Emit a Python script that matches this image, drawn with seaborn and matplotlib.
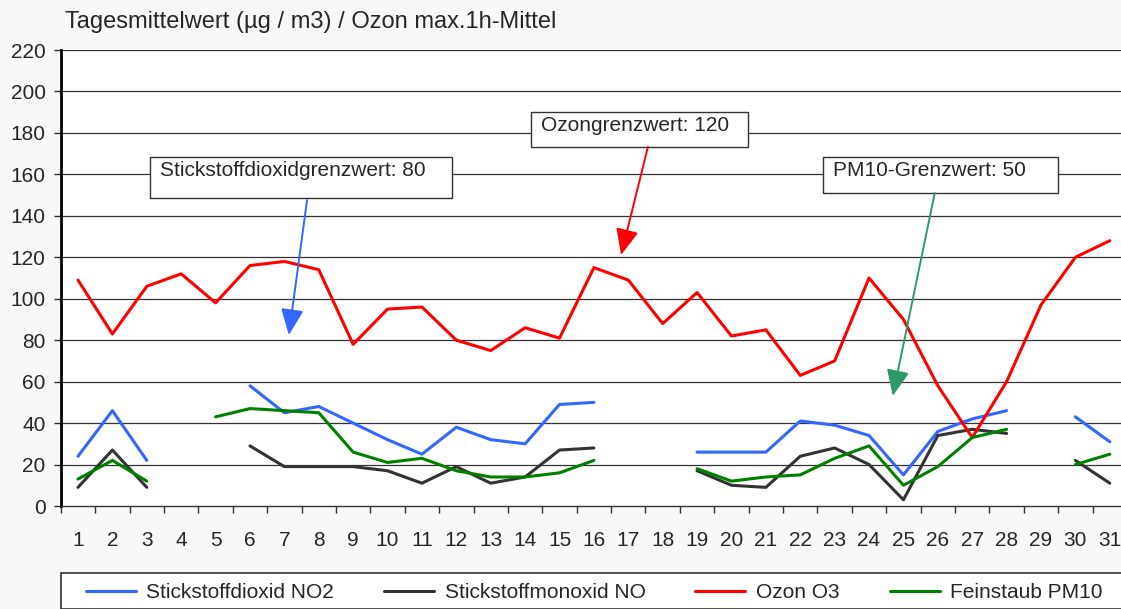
import numpy as np
import pandas as pd
import matplotlib
matplotlib.use('Agg')
import matplotlib.pyplot as plt
from matplotlib.patches import Rectangle
from matplotlib.lines import Line2D
import seaborn as sns

nan = np.nan
days = list(range(1, 32))

no2 = [24, 46, 22, nan, nan, 58, 45, 48, 40, 32, 25, 38, 32, 30, 49, 50,
       nan, nan, 26, 26, 26, 41, 39, 34, 15, 36, 42, 46, nan, 43, 31]
no = [9, 27, 9, nan, nan, 29, 19, 19, 19, 17, 11, 19, 11, 14, 27, 28,
      nan, nan, 17, 10, 9, 24, 28, 20, 3, 34, 37, 35, nan, 22, 11]
o3 = [109, 83, 106, 112, 98, 116, 118, 114, 78, 95, 96, 80, 75, 86, 81, 115,
      109, 88, 103, 82, 85, 63, 70, 110, 90, 58, 33, 60, 97, 120, 128]
pm10 = [13, 22, 12, nan, 43, 47, 46, 45, 26, 21, 23, 17, 14, 14, 16, 22,
        nan, nan, 18, 12, 14, 15, 23, 29, 10, 19, 33, 37, nan, 20, 25]

series_names = ['Stickstoffdioxid NO2', 'Stickstoffmonoxid NO', 'Ozon O3', 'Feinstaub PM10']
series_colors = ['#3366ff', '#333333', '#ff0000', '#008000']
y_ticks = list(range(0, 221, 20))

# annotation boxes: text, box (x0, x1, y0, y1), arrow start, arrow end, colour
notes = [
    ('Stickstoffdioxidgrenzwert: 80', (3.1, 11.87, 148.6, 168.4), (7.66, 147.6), (7.13, 82.5), '#3366ff'),
    ('Ozongrenzwert: 120', (14.17, 20.48, 173.2, 190.1), (17.57, 173.2), (16.79, 121.1), '#ff0000'),
    ('PM10-Grenzwert: 50', (22.66, 29.49, 151.0, 168.4), (25.91, 151.0), (24.69, 53.1), '#2e9968'),
]

frames = []
for name, vals in zip(series_names, [no2, no, o3, pm10]):
    d = pd.DataFrame({'Tag': days, 'Wert': vals, 'Messung': name})
    d['Segment'] = d['Wert'].isna().cumsum()
    frames.append(d.dropna())
df = pd.concat(frames, ignore_index=True)
df['Einheit'] = df['Messung'] + '_' + df['Segment'].astype(str)

sns.set_theme(style='white')
plt.rcParams['font.family'] = ['Liberation Sans', 'DejaVu Sans']

bg = '#f8f8f8'
fig = plt.figure(figsize=(11.21, 6.09), dpi=100, facecolor=bg)
ax = fig.add_axes([60.8 / 1121, 1 - 506 / 609, (1127 - 60.8) / 1121, (506 - 50) / 609])
ax.set_facecolor('white')

for yv in y_ticks[1:]:
    ax.axhline(yv, color='#333333', lw=0.9, zorder=1)

sns.lineplot(data=df, x='Tag', y='Wert', hue='Messung', units='Einheit', estimator=None,
             hue_order=series_names, palette=dict(zip(series_names, series_colors)),
             lw=2.2, legend=False, ax=ax, zorder=4)

for text, (x0, x1, y0, y1), start, end, col in notes:
    ax.add_patch(Rectangle((x0, y0), x1 - x0, y1 - y0, facecolor='white',
                           edgecolor='#333333', lw=1, zorder=3))
    ax.text(x0 + 0.28, y1 - 6.3, text, fontsize=15, va='center', ha='left', zorder=5)
    ax.annotate('', xy=end, xytext=start, zorder=6,
                arrowprops=dict(arrowstyle='-|>,head_length=0.8,head_width=0.35',
                                color=col, lw=1.4, mutation_scale=20, shrinkA=0, shrinkB=0))

ax.set_xlim(0.5, 31.5)
ax.set_ylim(0, 220)
ax.set_xticks(days)
ax.set_xticklabels([str(d) for d in days], fontsize=15)
ax.set_xticks(np.arange(0.5, 32, 1), minor=True)
ax.set_yticks(y_ticks)
ax.set_yticklabels([str(v) for v in y_ticks], fontsize=15)
ax.tick_params(axis='x', which='major', length=0, pad=18)
ax.tick_params(axis='x', which='minor', length=5, width=1, color='#333333', direction='out', bottom=True)
ax.tick_params(axis='y', length=5, width=1, color='#333333', direction='out', left=True, pad=6)
ax.set_xlabel('')
ax.set_ylabel('')
for s in ['top', 'right']:
    ax.spines[s].set_visible(False)
ax.spines['left'].set_linewidth(2)
ax.spines['left'].set_color('black')
ax.spines['bottom'].set_linewidth(1)
ax.spines['bottom'].set_color('#333333')

fig.text(65 / 1121, 1 - 22 / 609, 'Tagesmittelwert (µg / m3) / Ozon max.1h-Mittel',
         fontsize=17, ha='left', va='center')

# legend frame at the bottom, running off the right edge
fig.patches.append(Rectangle((61 / 1121, 0), 1.0, 1 - 573 / 609, transform=fig.transFigure,
                             facecolor='white', edgecolor='#333333', lw=1.2, zorder=0))
handles = [Line2D([0], [0], color=c, lw=2.2) for c in series_colors]
fig.legend(handles, series_names, loc='center left', ncol=4,
           bbox_to_anchor=(86 / 1121, 1 - 593 / 609), fontsize=15,
           frameon=False, handlelength=2.4, handletextpad=0.5,
           columnspacing=2.4, borderpad=0, borderaxespad=0)

fig.savefig('out.png', dpi=100, facecolor=bg)
